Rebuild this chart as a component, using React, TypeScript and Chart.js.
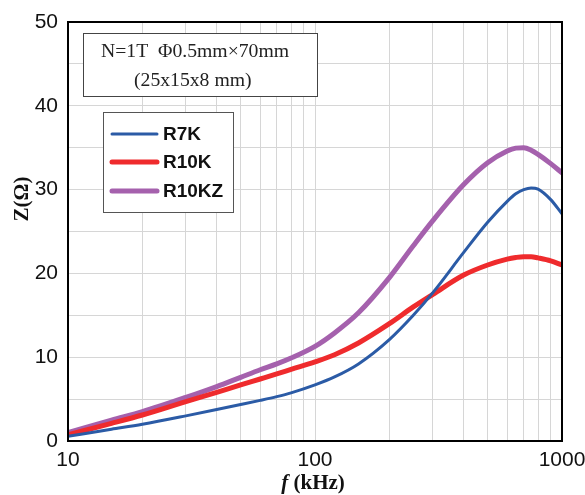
import React, { useEffect, useRef } from "react";
import { Chart, registerables } from "chart.js";

Chart.register(...registerables);

// ---- data ----
const freq = [10, 15, 20, 30, 40, 50, 60, 70, 80, 100, 120, 150, 200, 250, 300, 400, 500, 600, 650, 700, 750, 800, 900, 1000];
const r7k = [0.55, 1.4, 2.0, 3.0, 3.75, 4.35, 4.85, 5.3, 5.75, 6.7, 7.65, 9.2, 12.1, 15.0, 17.7, 22.5, 26.1, 28.6, 29.5, 30.0, 30.2, 30.05, 28.8, 27.1];
const r10k = [0.75, 2.1, 3.1, 4.7, 5.8, 6.7, 7.4, 8.0, 8.55, 9.45, 10.3, 11.7, 14.0, 16.0, 17.5, 19.8, 21.0, 21.7, 21.9, 22.0, 22.0, 21.85, 21.5, 21.0];
const r10kz = [1.0, 2.5, 3.5, 5.2, 6.5, 7.6, 8.5, 9.2, 9.9, 11.3, 12.9, 15.3, 19.5, 23.3, 26.3, 30.6, 33.2, 34.6, 34.95, 35.0, 34.7, 34.2, 33.1, 32.0];
const seriesNames = ["R7K", "R10K", "R10KZ"];
const xGridValues = [10, 20, 30, 40, 50, 60, 70, 80, 90, 100, 200, 300, 400, 500, 600, 700, 800, 900, 1000];
const xLabelValues = [10, 100, 1000];
const noteLines = ["N=1T  \u03A60.5mm\u00D770mm", "(25x15x8 mm)"];
const yTitle = "Z(\u03A9)";
const xTitleItalic = "f";
const xTitleRest = " (kHz)";

const colors = ["#2b5ba6", "#ef2b2d", "#a561ad"];
const widths = [3, 5, 5];

const SANS = "'Liberation Sans', Arial, sans-serif";
const SERIF = "'Liberation Serif', 'Times New Roman', serif";

const decorPlugin = {
  id: "decor",
  afterDatasetsDraw(chart: any) {
    const { ctx, chartArea: a } = chart;
    ctx.save();
    ctx.strokeStyle = "#000";
    ctx.lineWidth = 2;
    ctx.strokeRect(a.left, a.top, a.right - a.left, a.bottom - a.top);
    ctx.restore();
  },
  afterDraw(chart: any) {
    const { ctx } = chart;
    ctx.save();
    // note box
    ctx.fillStyle = "#fff";
    ctx.fillRect(83, 33, 234, 63);
    ctx.strokeStyle = "#444";
    ctx.lineWidth = 1;
    ctx.strokeRect(83.5, 33.5, 234, 63);
    ctx.fillStyle = "#222";
    ctx.font = `19.7px ${SERIF}`;
    ctx.textBaseline = "middle";
    ctx.textAlign = "left";
    ctx.fillText(noteLines[0], 101, 52);
    ctx.fillText(noteLines[1], 134, 81);

    // legend box
    ctx.fillStyle = "#fff";
    ctx.fillRect(103, 112, 130, 100);
    ctx.strokeStyle = "#555";
    ctx.strokeRect(103.5, 112.5, 130, 100);
    const rows = [134, 162, 191];
    seriesNames.forEach((name, i) => {
      ctx.strokeStyle = colors[i];
      ctx.lineWidth = widths[i];
      ctx.lineCap = "round";
      ctx.beginPath();
      ctx.moveTo(112, rows[i]);
      ctx.lineTo(157, rows[i]);
      ctx.stroke();
      ctx.fillStyle = "#111";
      ctx.font = `bold 19px ${SANS}`;
      ctx.textBaseline = "middle";
      ctx.fillText(name, 163, rows[i] + 1);
    });

    // y title
    ctx.save();
    ctx.translate(23, 199);
    ctx.rotate(-Math.PI / 2);
    ctx.fillStyle = "#111";
    ctx.font = `bold 21px ${SERIF}`;
    ctx.textAlign = "center";
    ctx.textBaseline = "middle";
    ctx.fillText(yTitle, 0, 0);
    ctx.restore();

    // x title
    ctx.fillStyle = "#111";
    ctx.textBaseline = "middle";
    ctx.textAlign = "left";
    ctx.font = `italic bold 21px ${SERIF}`;
    const w1 = ctx.measureText(xTitleItalic).width;
    ctx.font = `bold 21px ${SERIF}`;
    const w2 = ctx.measureText(xTitleRest).width;
    const x0 = 313 - (w1 + w2) / 2;
    ctx.font = `italic bold 21px ${SERIF}`;
    ctx.fillText(xTitleItalic, x0, 484);
    ctx.font = `bold 21px ${SERIF}`;
    ctx.fillText(xTitleRest, x0 + w1, 484);
    ctx.restore();
  },
};

export default function App() {
  const ref = useRef<HTMLCanvasElement | null>(null);
  useEffect(() => {
    document.body.style.margin = "0";
    const canvas = ref.current;
    if (!canvas) return;
    const series = [r7k, r10k, r10kz];
    const chart = new Chart(canvas, {
      type: "line",
      data: {
        datasets: series.map((vals, i) => ({
          label: seriesNames[i],
          data: freq.map((f, j) => ({ x: f, y: vals[j] })),
          borderColor: colors[i],
          borderWidth: widths[i],
          pointRadius: 0,
          fill: false,
          cubicInterpolationMode: "monotone" as const,
          borderCapStyle: "round" as const,
        })),
      },
      options: {
        responsive: false,
        animation: false,
        devicePixelRatio: 1,
        layout: { padding: { left: 0, top: 22, right: 23, bottom: 0 } },
        plugins: { legend: { display: false }, tooltip: { enabled: false } },
        scales: {
          x: {
            type: "logarithmic",
            min: 10,
            max: 1000,
            afterBuildTicks: (scale: any) => {
              scale.ticks = xGridValues.map((v) => ({ value: v }));
            },
            afterFit: (scale: any) => {
              scale.height = 54;
              scale.paddingLeft = 0;
              scale.paddingRight = 0;
            },
            ticks: {
              autoSkip: false,
              maxRotation: 0,
              padding: 7,
              color: "#111",
              font: { family: SANS, size: 21 },
              callback: (v: any) => (xLabelValues.includes(Number(v)) ? String(v) : ""),
            },
            grid: { color: "#d6d6d6", lineWidth: 1, drawTicks: false },
            border: { display: false },
          },
          y: {
            type: "linear",
            min: 0,
            max: 50,
            afterFit: (scale: any) => {
              scale.width = 68;
              scale.paddingTop = 0;
              scale.paddingBottom = 0;
            },
            ticks: {
              stepSize: 5,
              padding: 10,
              color: "#111",
              font: { family: SANS, size: 21 },
              callback: (v: any) => (Number(v) % 10 === 0 ? String(v) : ""),
            },
            grid: { color: "#d6d6d6", lineWidth: 1, drawTicks: false },
            border: { display: false },
          },
        },
      },
      plugins: [decorPlugin],
    } as any);
    return () => chart.destroy();
  }, []);
  return (
    <div style={{ position: "fixed", left: 0, top: 0, width: 585, height: 495, background: "#fff" }}>
      <canvas ref={ref} width={585} height={495} style={{ display: "block", width: 585, height: 495 }} />
    </div>
  );
}
